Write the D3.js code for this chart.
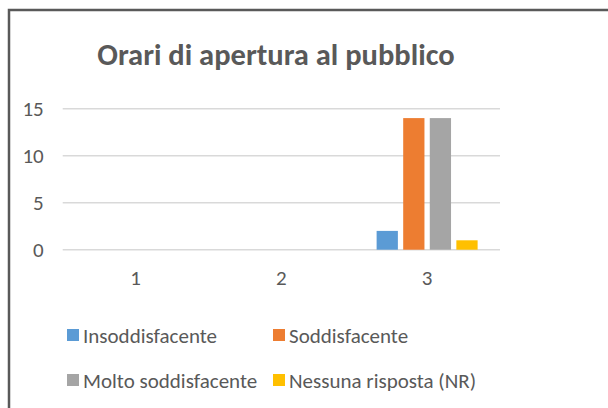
<!DOCTYPE html>
<html>
<head>
<meta charset="utf-8">
<script src="https://cdn.jsdelivr.net/npm/d3@7"></script>
<style>
  html, body { margin: 0; padding: 0; background: #fff; overflow: hidden; }
  text { font-family: Carlito, Lato, "Open Sans", sans-serif; fill: #595959; }
</style>
</head>
<body>
<div id="chart"></div>
<script>
// Data
var categories = ["1", "2", "3"];
var seriesNames = ["Insoddisfacente", "Soddisfacente", "Molto soddisfacente", "Nessuna risposta (NR)"];
var insoddisfacente = [0, 0, 2];
var soddisfacente = [0, 0, 14];
var moltoSoddisfacente = [0, 0, 14];
var nessunaRisposta = [0, 0, 1];
var yTicks = [0, 5, 10, 15];
var colors = ["#5B9BD5", "#ED7D31", "#A5A5A5", "#FFC000"];

function init() {
    var w = 608, h = 408;
    var values = [insoddisfacente, soddisfacente, moltoSoddisfacente, nessunaRisposta];

    var svg = d3.select("#chart")
                .append("svg")
                .attr("width", w)
                .attr("height", h);

    // chart frame, runs off the right and bottom edges
    svg.append("rect")
       .attr("x", 9).attr("y", 10)
       .attr("width", 700).attr("height", 500)
       .attr("fill", "#fff")
       .attr("stroke", "#595959")
       .attr("stroke-width", 2.5);

    svg.append("text")
       .attr("x", 276)
       .attr("y", 65)
       .attr("text-anchor", "middle")
       .style("font-size", "30.5px")
       .style("font-weight", "bold")
       .text("Orari di apertura al pubblico");

    var xScale = d3.scaleBand()
                   .domain(categories)
                   .range([62.7, 500]);

    var yScale = d3.scaleLinear()
                   .domain([0, 15])
                   .range([249.7, 108.7]);

    // inner band for the four series inside each category
    var gap = (xScale.bandwidth() - 101) / 2;
    var xInner = d3.scaleBand()
                   .domain(d3.range(seriesNames.length))
                   .range([gap, gap + 101])
                   .paddingInner(0.2);

    // gridlines
    svg.append("g")
       .selectAll("line")
       .data(yTicks)
       .enter()
       .append("line")
       .attr("x1", 62.7).attr("x2", 500)
       .attr("y1", function(d) { return yScale(d); })
       .attr("y2", function(d) { return yScale(d); })
       .attr("stroke", "#D9D9D9")
       .attr("stroke-width", 1.5);

    // y axis labels
    var yAxis = d3.axisLeft(yScale).tickValues(yTicks).tickSize(0).tickPadding(19);
    svg.append("g")
       .attr("transform", "translate(62.7,0)")
       .call(yAxis)
       .call(function(g) { g.select(".domain").remove(); })
       .selectAll("text")
       .style("font-family", "Carlito, Lato, sans-serif")
       .style("font-size", "21px")
       .style("fill", "#595959");

    // x axis labels
    var xAxis = d3.axisBottom(xScale).tickSize(0).tickPadding(20);
    svg.append("g")
       .attr("transform", "translate(0," + yScale(0) + ")")
       .call(xAxis)
       .call(function(g) { g.select(".domain").remove(); })
       .selectAll("text")
       .style("font-family", "Carlito, Lato, sans-serif")
       .style("font-size", "21px")
       .style("fill", "#595959");

    // bars
    var groups = svg.selectAll("g.series")
                    .data(values)
                    .enter()
                    .append("g")
                    .attr("class", "series")
                    .attr("fill", function(d, i) { return colors[i]; });

    groups.each(function(vals, si) {
        d3.select(this).selectAll("rect")
          .data(vals)
          .enter()
          .append("rect")
          .attr("x", function(d, i) { return xScale(categories[i]) + xInner(si); })
          .attr("y", function(d) { return yScale(d); })
          .attr("width", xInner.bandwidth())
          .attr("height", function(d) { return yScale(0) - yScale(d); });
    });

    // legend, two columns
    var legend = svg.append("g");
    var entries = legend.selectAll("g.legend")
                        .data(seriesNames)
                        .enter()
                        .append("g")
                        .attr("class", "legend")
                        .attr("transform", function(d, i) {
                            return "translate(" + (i % 2 === 0 ? 67 : 273) + "," + (335 + Math.floor(i / 2) * 45) + ")";
                        });

    entries.append("rect")
           .attr("x", 0).attr("y", -6)
           .attr("width", 12).attr("height", 12)
           .attr("fill", function(d, i) { return colors[i]; });

    entries.append("text")
           .attr("x", 16)
           .attr("y", 7.5)
           .style("font-size", "21px")
           .text(function(d) { return d; });
}

window.onload = init;
</script>
</body>
</html>
